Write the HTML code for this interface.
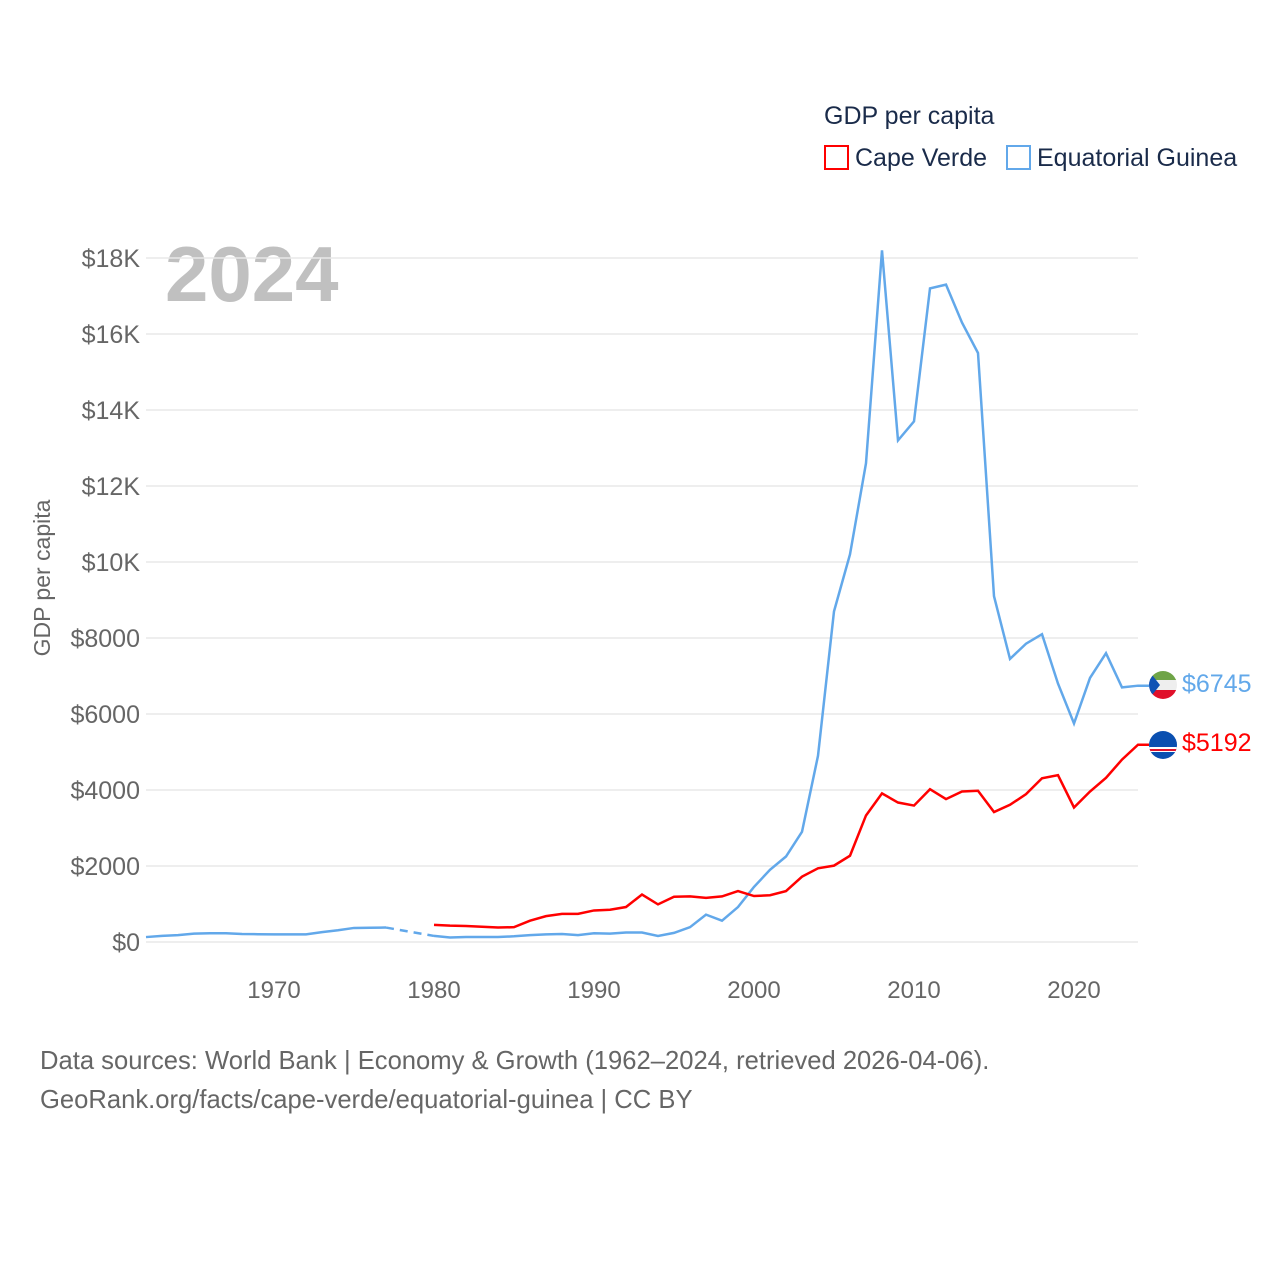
<!DOCTYPE html>
<html><head><meta charset="utf-8"><style>
html,body{margin:0;padding:0;background:#fff;}
svg{display:block;font-family:"Liberation Sans",sans-serif;}
</style></head><body>
<svg id="chart" width="1280" height="1280" viewBox="0 0 1280 1280">
<text x="824" y="124" font-size="25" fill="#1a2b4a">GDP per capita</text>
<g><rect x="825" y="146" width="23" height="23" fill="none" stroke="#ff0000" stroke-width="2"/><text x="855" y="166" font-size="25" fill="#1a2b4a">Cape Verde</text></g>
<g><rect x="1007" y="146" width="23" height="23" fill="none" stroke="#62a8ea" stroke-width="2"/><text x="1037" y="166" font-size="25" fill="#1a2b4a">Equatorial Guinea</text></g>
<text x="165" y="301" font-size="78" font-weight="bold" fill="#c0c0c0">2024</text>
<text transform="translate(50,578) rotate(-90)" text-anchor="middle" font-size="23" fill="#666">GDP per capita</text>
<g id="grid"></g><g id="xt"></g><g id="lines"></g>
<g>
<clipPath id="c1"><circle cx="1163" cy="685" r="14"/></clipPath>
<g clip-path="url(#c1)"><rect x="1149" y="671" width="28" height="9" fill="#6fa447"/><rect x="1149" y="680" width="28" height="10" fill="#eee"/><rect x="1149" y="690" width="28" height="10" fill="#e0102a"/><polygon points="1149,671 1160,685 1149,699" fill="#1152b4"/></g></g>
<g>
<clipPath id="c2"><circle cx="1163" cy="745" r="14"/></clipPath>
<g clip-path="url(#c2)"><rect x="1149" y="731" width="28" height="28" fill="#0a4fb0"/><rect x="1149" y="747" width="28" height="5" fill="#fff"/><rect x="1149" y="749" width="28" height="2" fill="#e0102a"/></g></g>
<text x="1182" y="692" font-size="25" fill="#62a8ea">$6745</text>
<text x="1182" y="751" font-size="25" fill="#ff0000">$5192</text>
<text x="40" y="1069" font-size="25.6" fill="#666">Data sources: World Bank | Economy &amp; Growth (1962–2024, retrieved 2026-04-06).</text>
<text x="40" y="1108" font-size="25.6" fill="#666">GeoRank.org/facts/cape-verde/equatorial-guinea | CC BY</text>
</svg>
<script>
const yTicks=[0,2000,4000,6000,8000,10000,12000,14000,16000,18000];
const yTickLabels=["$0","$2000","$4000","$6000","$8000","$10K","$12K","$14K","$16K","$18K"];
const xTicks=[1970,1980,1990,2000,2010,2020];
const gqYearsEarly=[1962,1963,1964,1965,1966,1967,1968,1969,1970,1971,1972,1973,1974,1975,1976,1977];
const gqEarly=[130,160,180,220,230,230,210,205,200,200,200,260,310,370,375,380];
const gqYears=[1980,1981,1982,1983,1984,1985,1986,1987,1988,1989,1990,1991,1992,1993,1994,1995,1996,1997,1998,1999,2000,2001,2002,2003,2004,2005,2006,2007,2008,2009,2010,2011,2012,2013,2014,2015,2016,2017,2018,2019,2020,2021,2022,2023,2024];
const gqValues=[160,120,130,130,130,150,180,200,210,180,230,220,250,250,160,240,390,720,560,920,1450,1900,2250,2900,4900,8700,10200,12600,18200,13200,13700,17200,17300,16300,15500,9100,7450,7850,8100,6800,5750,6950,7600,6700,6745];
const cvYears=gqYears;
const cvValues=[450,430,420,400,380,390,560,680,740,740,830,850,920,1250,990,1190,1200,1160,1200,1340,1210,1230,1340,1720,1940,2010,2270,3330,3910,3670,3590,4020,3760,3960,3980,3420,3610,3890,4310,4390,3540,3960,4320,4800,5192];
const X=y=>146+(y-1962)*16, Y=v=>942-v*0.038;
const NS="http://www.w3.org/2000/svg";
function mk(t,a,p){const e=document.createElementNS(NS,t);for(const k in a)e.setAttribute(k,a[k]);p.appendChild(e);return e;}
const grid=document.getElementById('grid');
yTicks.forEach((v,i)=>{
 const l=mk('line',{x1:146,x2:1138,y1:Y(v),y2:Y(v),stroke:'#e8e8e8','stroke-width':1.5},grid);
 
 
 const t=mk('text',{x:140,y:Y(v)+9,'text-anchor':'end','font-size':25,fill:'#666'},grid);
 t.textContent=yTickLabels[i];
 
 
});
const xt=document.getElementById('xt');
xTicks.forEach(y=>{
 const t=mk('text',{x:X(y),y:998,'text-anchor':'middle','font-size':24,fill:'#666'},xt);
 t.textContent=y;
 
 
});
const lines=document.getElementById('lines');
const pts=(ys,vs)=>ys.map((y,i)=>X(y)+','+Y(vs[i])).join(' ');
const a=mk('polyline',{points:pts(gqYearsEarly,gqEarly),fill:'none',stroke:'#62a8ea','stroke-width':2.5},lines);


const d=mk('line',{x1:X(1977),y1:Y(gqEarly[gqEarly.length-1]),x2:X(1980),y2:Y(gqValues[0]),stroke:'#62a8ea','stroke-width':2.5,'stroke-dasharray':'8,6'},lines);


const b=mk('polyline',{points:pts(gqYears,gqValues)+' 1149,'+Y(gqValues[gqValues.length-1]),fill:'none',stroke:'#62a8ea','stroke-width':2.5},lines);


const c=mk('polyline',{points:pts(cvYears,cvValues)+' 1149,'+Y(cvValues[cvValues.length-1]),fill:'none',stroke:'#ff0000','stroke-width':2.5},lines);


</script>
</body></html>
